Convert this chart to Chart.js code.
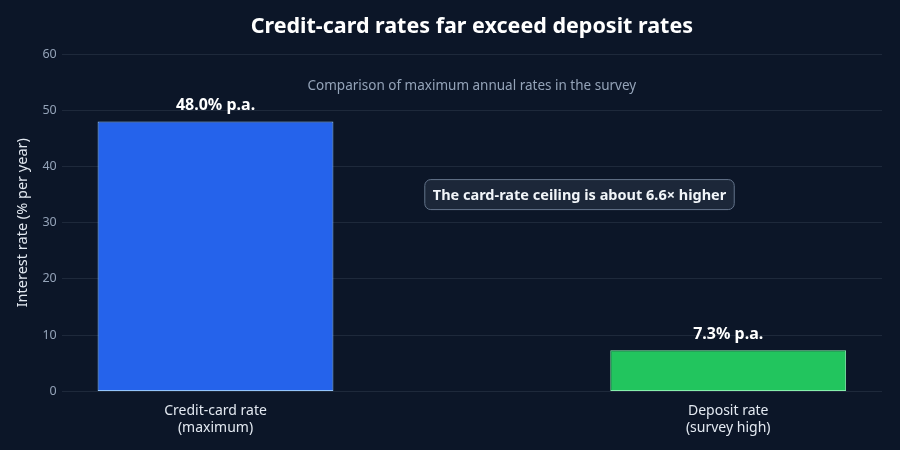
<!DOCTYPE html>
<html>
<head>
<meta charset="utf-8">
<script src="https://cdn.jsdelivr.net/npm/chart.js@4"></script>
<style>
  html, body { margin: 0; padding: 0; background: #0c1628; }
  #wrap { width: 900px; height: 450px; }
</style>
</head>
<body>
<div id="wrap"><canvas id="rates_chart"></canvas></div>
<script>
// Chart values.
var categoryLabels = [["Credit-card rate", "(maximum)"], ["Deposit rate", "(survey high)"]];
var rateValues = [48.0, 7.3];
var valueLabels = ["48.0% p.a.", "7.3% p.a."];
var barColors = ["#2563eb", "#22c55e"];
var barBorders = ["#93c5fd", "#86efac"];
var yTicks = [0, 10, 20, 30, 40, 50, 60];

var titleText = "Credit-card rates far exceed deposit rates";
var subtitleText = "Comparison of maximum annual rates in the survey";
var noteText = "The card-rate ceiling is about 6.6\u00d7 higher";
var notePos = { x: 0.71, y: 35 };

var FONT = "'Noto Sans', 'Open Sans', sans-serif";

// Title, subtitle, value labels and the note box, drawn over the chart.
var overlayPlugin = {
	id: 'overlay',
	afterDatasetsDraw: function(chart) {
		var ctx = chart.ctx;
		var area = chart.chartArea;
		var xs = chart.scales.x, ys = chart.scales.y;
		var mid = (area.left + area.right) / 2;
		ctx.save();
		ctx.textAlign = 'center';
		ctx.textBaseline = 'middle';

		ctx.fillStyle = '#ffffff';
		ctx.font = "bold 21.5px " + FONT;
		ctx.fillText(titleText, mid, 27);

		ctx.fillStyle = '#94a3b8';
		ctx.font = "13.5px " + FONT;
		ctx.fillText(subtitleText, mid, 86);

		// value labels above bars
		ctx.fillStyle = '#ffffff';
		ctx.font = "bold 16px " + FONT;
		chart.getDatasetMeta(0).data.forEach(function(bar, i) {
			ctx.fillText(valueLabels[i], bar.x, bar.y - 16);
		});

		// note box
		var nx = xs.getPixelForValue(notePos.x);
		var ny = ys.getPixelForValue(notePos.y);
		ctx.font = "bold 14.5px " + FONT;
		var w = ctx.measureText(noteText).width + 16;
		var h = 30;
		ctx.beginPath();
		ctx.roundRect(nx - w / 2, ny - h / 2, w, h, 6);
		ctx.fillStyle = 'rgba(30, 41, 59, 0.9)';
		ctx.fill();
		ctx.strokeStyle = '#64748b';
		ctx.lineWidth = 1;
		ctx.stroke();
		ctx.fillStyle = '#f1f5f9';
		ctx.fillText(noteText, nx, ny + 1);
		ctx.restore();
	}
};

var ratesChart = new Chart(document.getElementById('rates_chart'), {
	type: 'bar',
	data: {
		datasets: [{
			data: rateValues.map(function(v, i) { return { x: i, y: v }; }),
			backgroundColor: barColors,
			borderColor: barBorders,
			borderWidth: 1,
			borderSkipped: false,
			barPercentage: 0.46,
			categoryPercentage: 1.0
		}]
	},
	plugins: [overlayPlugin],
	options: {
		responsive: true,
		maintainAspectRatio: false,
		animation: false,
		layout: {
			padding: { top: 54, right: 18, left: 10, bottom: 11 }
		},
		plugins: {
			legend: { display: false },
			tooltip: { enabled: false }
		},
		scales: {
			x: {
				type: 'linear',
				min: -0.3,
				max: 1.3,
				offset: false,
				afterBuildTicks: function(axis) {
					axis.ticks = categoryLabels.map(function(c, i) { return { value: i }; });
				},
				ticks: {
					color: '#e2e8f0',
					font: { family: FONT, size: 14 },
					padding: 3,
					callback: function(value) { return categoryLabels[value] || ''; }
				},
				grid: { display: false, offset: false },
				border: { display: false }
			},
			y: {
				min: 0,
				max: 60,
				afterBuildTicks: function(axis) {
					axis.ticks = yTicks.map(function(v) { return { value: v }; });
				},
				ticks: {
					color: '#94a3b8',
					font: { family: FONT, size: 12.5 },
					padding: 5
				},
				grid: { color: '#1e293b', lineWidth: 1, drawTicks: false },
				border: { display: false },
				title: {
					display: true,
					text: 'Interest rate (% per year)',
					color: '#e2e8f0',
					font: { family: FONT, size: 14.5 },
					padding: { bottom: 6 }
				}
			}
		}
	}
});
</script>
</body>
</html>
